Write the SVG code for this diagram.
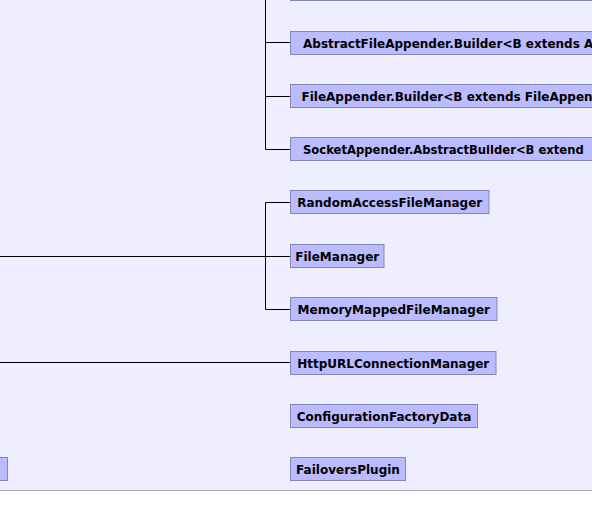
<svg xmlns="http://www.w3.org/2000/svg" width="592" height="527" viewBox="0 0 592 527">
<style>
.bg{fill:#eeeeff}
.n rect{fill:#bbbbff;stroke:#8585bb;stroke-width:1}
.n text{font-family:"DejaVu Sans",sans-serif;font-weight:bold;font-size:12px;fill:#000}
.c path{fill:none;stroke:#000;stroke-width:1}
</style>
<rect class="bg" x="0" y="0" width="592" height="490.5"/>
<rect x="0" y="491" width="592" height="36" fill="#ffffff"/>
<line x1="0" y1="490.5" x2="592" y2="490.5" stroke="#a8a8b4" stroke-width="1"/>
<g class="c" id="connectors">
<path d="M265.5,-30 V149.5 H290 M265.5,-10.5 H290 M265.5,42.5 H290 M265.5,96.5 H290"/>
<path d="M0,256.5 H290 M265.5,202.5 V309.5 H290 M265.5,202.5 H290"/>
<path d="M0,362.5 H290"/>
</g>
<g class="n" id="node-top"><rect x="290.5" y="-22.5" width="320" height="23"/></g>
<g class="n" id="node-abstractfileappender-builder"><rect x="290.5" y="31.5" width="320" height="23"/><text x="303" y="47.5">AbstractFileAppender.Builder&lt;B extends A</text></g>
<g class="n" id="node-fileappender-builder"><rect x="290.5" y="84.5" width="320" height="23"/><text x="301.5" y="100.5">FileAppender.Builder&lt;B extends FileAppen</text></g>
<g class="n" id="node-socketappender-abstractbuilder"><rect x="290.5" y="137.5" width="320" height="23"/><text x="303" y="153.5" style="font-size:11.6px">SocketAppender.AbstractBuilder&lt;B extend</text></g>
<g class="n" id="node-randomaccessfilemanager"><rect x="290.5" y="190.5" width="198.5" height="23"/><text x="389.75" y="206.5" text-anchor="middle">RandomAccessFileManager</text></g>
<g class="n" id="node-filemanager"><rect x="290.5" y="244.5" width="93.5" height="23"/><text x="337.25" y="260.5" text-anchor="middle">FileManager</text></g>
<g class="n" id="node-memorymappedfilemanager"><rect x="290.5" y="297.5" width="206.5" height="23"/><text x="393.75" y="313.5" text-anchor="middle">MemoryMappedFileManager</text></g>
<g class="n" id="node-httpurlconnectionmanager"><rect x="290.5" y="351.5" width="205.5" height="23"/><text x="393.25" y="367.5" text-anchor="middle">HttpURLConnectionManager</text></g>
<g class="n" id="node-configurationfactorydata"><rect x="290.5" y="404.5" width="187" height="23"/><text x="384" y="420.5" text-anchor="middle">ConfigurationFactoryData</text></g>
<g class="n" id="node-failoversplugin"><rect x="290.5" y="457.5" width="115" height="23"/><text x="348" y="473.5" text-anchor="middle">FailoversPlugin</text></g>
<g class="n" id="node-left"><rect x="-60" y="457.5" width="67.5" height="23"/></g>
</svg>
